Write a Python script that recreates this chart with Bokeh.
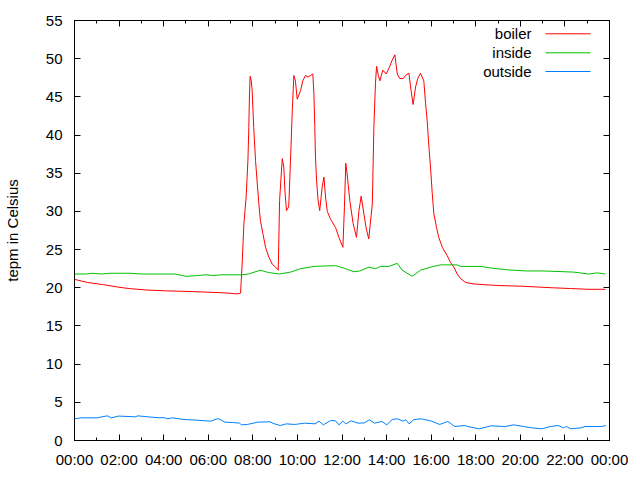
from bokeh.plotting import figure
from bokeh.models import (Range1d, FixedTicker, LinearAxis, Label, Arrow)
from bokeh.embed import file_html
from bokeh.resources import INLINE

# ---- data (hours since midnight, degrees Celsius) ----
boiler_hours = [0.0, 0.57, 1.31, 1.92, 2.44, 3.26, 4.08, 5.28, 6.63, 7.30, 7.45,
                7.52, 7.60, 7.70, 7.78, 7.82, 7.85, 7.88, 7.93, 7.97, 8.04, 8.12,
                8.20, 8.27, 8.34, 8.45, 8.57, 8.72, 8.87, 9.02, 9.14, 9.20, 9.32,
                9.39, 9.44, 9.51, 9.61, 9.69, 9.77, 9.84, 9.91, 9.99, 10.14, 10.24,
                10.36, 10.48, 10.59, 10.69, 10.74, 10.78, 10.81, 10.86, 10.93, 11.00,
                11.11, 11.19, 11.26, 11.34, 11.48, 11.71, 11.86, 12.04, 12.11, 12.17,
                12.23, 12.35, 12.50, 12.65, 12.76, 12.86, 12.98, 13.09, 13.20, 13.36,
                13.43, 13.50, 13.55, 13.63, 13.70, 13.83, 13.98, 14.13, 14.25, 14.37,
                14.48, 14.59, 14.75, 14.85, 15.00, 15.10, 15.19, 15.30, 15.40, 15.52,
                15.67, 15.75, 15.82, 15.90, 15.97, 16.05, 16.12, 16.24, 16.34, 16.50,
                16.72, 16.87, 17.02, 17.17, 17.32, 17.54, 17.91, 18.96, 20.08, 21.43,
                22.25, 23.07, 23.82]
boiler_temp = [21.1, 20.7, 20.4, 20.1, 19.9, 19.7, 19.6, 19.5, 19.35, 19.2, 19.3,
               23.1, 28.4, 31.9, 36.7, 41.0, 45.4, 47.7, 47.1, 45.8, 41.0, 36.7,
               33.6, 31.0, 28.8, 27.1, 25.3, 24.0, 23.1, 22.7, 22.3, 31.4, 36.9,
               35.8, 32.7, 30.1, 30.6, 36.7, 43.2, 47.8, 47.1, 44.7, 45.8, 47.1,
               47.8, 47.6, 47.8, 48.0, 45.4, 41.0, 37.1, 34.0, 31.4, 30.1,
               33.2, 34.5, 31.9, 30.0, 29.0, 27.9, 26.6, 25.3, 30.6, 36.3,
               34.9, 31.4, 28.4, 26.6, 30.1, 32.0, 29.7, 27.7, 26.4, 31.0,
               41.0, 46.7, 49.0, 47.8, 47.1, 48.5, 48.0, 48.9, 49.8, 50.5,
               48.0, 47.4, 47.4, 47.8, 48.1, 45.8, 44.0, 46.3, 47.4, 48.1,
               47.1, 44.1, 41.9, 38.4, 35.8, 32.3, 29.7, 27.9, 26.6, 25.3,
               24.2, 23.3, 22.7, 21.8, 21.2, 20.7, 20.5, 20.3, 20.2, 20.0,
               19.9, 19.8, 19.8]

inside_hours = [0.0, 0.5, 0.8, 1.2, 1.6, 2.5, 3.0, 4.5, 5.0, 5.5, 5.9, 6.2, 6.6,
                7.5, 7.8, 8.34, 8.7, 9.17, 9.69, 10.14, 10.74, 11.71, 12.16, 12.53,
                12.8, 13.2, 13.5, 13.73, 14.1, 14.48, 14.7, 15.15, 15.52, 15.97,
                16.42, 17.17, 17.32, 18.2, 18.66, 19.4, 20.3, 21.05, 22.4, 23.07,
                23.45, 23.82]
inside_temp = [21.8, 21.8, 21.9, 21.8, 21.9, 21.9, 21.8, 21.8, 21.5, 21.6, 21.7,
               21.6, 21.7, 21.7, 21.8, 22.3, 22.0, 21.8, 22.05, 22.5, 22.8, 22.9,
               22.5, 22.1, 22.2, 22.7, 22.5, 22.8, 22.8, 23.2, 22.3, 21.5, 22.3,
               22.7, 23.0, 23.0, 22.8, 22.8, 22.6, 22.35, 22.2, 22.2, 22.05, 21.8,
               21.95, 21.8]

outside_hours = [0.0, 0.3, 1.0, 1.48, 1.65, 1.99, 2.72, 2.85, 3.27, 3.82, 4.0, 4.19,
                 4.37, 4.92, 5.47, 6.11, 6.39, 6.48, 6.75, 7.12, 7.4, 7.49, 7.76,
                 8.22, 8.77, 8.95, 9.23, 9.5, 9.87, 10.33, 10.79, 10.97, 11.16,
                 11.49, 11.71, 11.86, 12.04, 12.17, 12.41, 12.72, 13.0, 13.22, 13.46,
                 13.79, 14.01, 14.25, 14.5, 14.74, 14.86, 15.01, 15.23, 15.56, 16.02,
                 16.38, 16.75, 17.06, 17.48, 17.76, 18.17, 18.68, 19.32, 19.69, 20.15,
                 20.51, 20.97, 21.34, 21.7, 21.94, 22.07, 22.26, 22.72, 22.9, 23.63,
                 23.84]
outside_temp = [2.84, 2.97, 2.97, 3.23, 2.97, 3.2, 3.1, 3.23, 3.1, 2.97, 3.0, 2.84,
                2.97, 2.75, 2.66, 2.53, 2.84, 2.84, 2.4, 2.35, 2.27, 2.05, 2.1,
                2.4, 2.45, 2.2, 1.96, 2.18, 2.1, 2.27, 2.18, 2.53, 2.05,
                2.62, 2.58, 2.05, 2.53, 2.18, 2.58, 2.27, 2.31, 2.71, 2.27,
                2.49, 2.05, 2.75, 2.84, 2.53, 2.71, 2.18, 2.75, 2.84, 2.53,
                2.1, 2.49, 1.83, 1.96, 1.75, 1.53, 1.92, 1.83, 2.05, 1.83,
                1.66, 1.53, 1.83, 1.96, 1.66, 1.83, 1.53, 1.66, 1.83, 1.83,
                1.96]

x_tick_hours = [0, 2, 4, 6, 8, 10, 12, 14, 16, 18, 20, 22, 24]
x_tick_labels = ["00:00", "02:00", "04:00", "06:00", "08:00", "10:00", "12:00",
                 "14:00", "16:00", "18:00", "20:00", "22:00", "00:00"]
x_minor_hours = list(range(0, 25))
y_ticks = [0, 5, 10, 15, 20, 25, 30, 35, 40, 45, 50, 55]

series_names = ["boiler", "inside", "outside"]
series_colors = ["#ff0000", "#00c000", "#0080ff"]

FONT = "Liberation Sans"
FS = "15px"

p = figure(width=640, height=480, output_backend="svg", toolbar_location=None,
           x_range=Range1d(0, 24), y_range=Range1d(0, 55),
           min_border_left=74, min_border_right=31, min_border_top=20,
           min_border_bottom=40, x_axis_location=None, y_axis_location=None)
p.xgrid.visible = False
p.ygrid.visible = False
p.outline_line_color = "black"
p.outline_line_width = 1
p.background_fill_color = "white"
p.border_fill_color = "white"

xticker = FixedTicker(ticks=x_tick_hours, minor_ticks=x_minor_hours)
yticker = FixedTicker(ticks=y_ticks)


def style_axis(ax, labels=True):
    ax.axis_line_color = "black"
    ax.major_tick_line_color = "black"
    ax.minor_tick_line_color = "black"
    ax.major_tick_in = 6
    ax.major_tick_out = 0
    ax.minor_tick_in = 3
    ax.minor_tick_out = 0
    ax.major_label_text_font = FONT
    if labels:
        ax.major_label_text_font_size = FS
        ax.major_label_text_color = "black"
    else:
        # mirrored tick marks only: labels are not painted
        ax.major_label_text_font_size = "1px"
        ax.major_label_text_color = None
        ax.major_label_standoff = 0


xb = LinearAxis(ticker=xticker, major_label_overrides=dict(zip(x_tick_hours, x_tick_labels)))
style_axis(xb)
xb.major_label_standoff = 10
p.add_layout(xb, "below")

xt = LinearAxis(ticker=xticker)
style_axis(xt, labels=False)
p.add_layout(xt, "above")

yl = LinearAxis(ticker=yticker, axis_label="tepm in Celsius")
style_axis(yl)
yl.minor_tick_line_color = None
yl.major_label_standoff = 12
yl.axis_label_text_font = FONT
yl.axis_label_text_font_size = FS
yl.axis_label_text_font_style = "normal"
yl.axis_label_text_color = "black"
yl.axis_label_standoff = 22
p.add_layout(yl, "left")

yr = LinearAxis(ticker=yticker)
style_axis(yr, labels=False)
yr.minor_tick_line_color = None
p.add_layout(yr, "right")

all_x = [boiler_hours, inside_hours, outside_hours]
all_y = [boiler_temp, inside_temp, outside_temp]
for xs, ys, c in zip(all_x, all_y, series_colors):
    p.line(xs, ys, line_color=c, line_width=1)

# gnuplot-style key: text on the left, line sample on the right
row_y = [406.7, 387.7, 369.0]
for name, c, ry in zip(series_names, series_colors, row_y):
    p.add_layout(Label(x=457, y=ry, x_units="screen", y_units="screen", text=name,
                       text_align="right", text_baseline="middle",
                       text_font=FONT, text_font_size=FS, text_color="black"))
    p.add_layout(Arrow(end=None, x_start=471, y_start=ry, x_end=516, y_end=ry,
                       start_units="screen", end_units="screen",
                       line_color=c, line_width=1))

open("out.html", "w").write(file_html(p, INLINE))
